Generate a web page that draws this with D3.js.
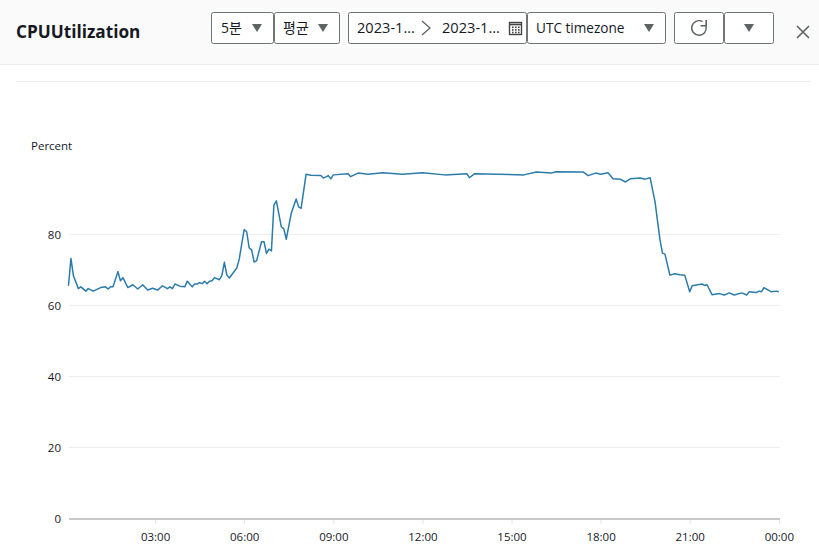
<!DOCTYPE html>
<html>
<head>
<meta charset="utf-8">
<script src="https://cdn.jsdelivr.net/npm/d3@7"></script>
<style>
html, body { margin: 0; padding: 0; background: #fff; }
svg { display: block; }
text { font-family: "Open Sans", "Noto Sans CJK KR", sans-serif; fill: #16191f; }
</style>
</head>
<body>
<div id="chart"></div>
<script>
// minutes since 00:00
const minutes = [5,10,15,25,30,40,45,55,70,80,85,90,95,105,110,115,125,135,145,155,165,175,185,195,205,210,215,220,230,240,245,255,260,265,270,275,280,285,290,295,300,310,315,320,325,330,345,350,355,360,365,370,375,380,385,395,400,405,410,415,420,425,435,440,445,455,465,470,475,485,495,515,520,530,535,540,570,575,590,610,640,680,720,765,810,815,825,925,950,980,990,1045,1055,1070,1080,1095,1105,1120,1130,1140,1160,1170,1180,1190,1200,1205,1210,1220,1230,1240,1250,1260,1265,1285,1290,1295,1305,1320,1330,1340,1350,1365,1375,1380,1395,1400,1405,1410,1425,1435,1440];
const cpuPercent = [65.6,73.3,68.4,64.8,65.3,64.1,64.8,64.1,65.1,65.3,64.7,65.3,65.3,69.6,67.0,67.9,65.1,65.9,64.7,65.9,64.4,64.9,64.4,65.6,64.8,65.3,64.8,66.1,65.5,65.3,66.9,65.3,66.1,66.1,66.5,66.2,66.9,66.2,66.9,67.0,67.9,67.3,68.6,72.2,68.6,67.8,70.6,73.1,77.4,81.4,80.8,76.3,75.7,72.3,72.6,78.0,78.0,74.7,75.9,75.4,88.3,89.5,82.2,81.6,78.7,86.0,90.0,87.8,87.4,97.0,96.7,96.6,95.9,96.6,95.7,96.8,97.1,96.3,97.3,97.0,97.4,97.0,97.4,96.8,97.1,96.0,97.1,96.8,97.6,97.3,97.7,97.6,96.6,97.3,97.0,97.4,95.7,95.6,94.8,95.7,95.9,95.6,96.0,89.2,78.5,74.8,74.5,68.6,69.0,68.7,68.6,63.9,65.6,66.1,65.7,65.9,63.1,63.4,63.0,63.6,63.0,63.6,63.0,63.9,63.7,64.1,63.9,65.1,63.9,64.1,63.9];
const xTickMinutes = [180,360,540,720,900,1080,1260,1440];
const xTickLabels = ["03:00","06:00","09:00","12:00","15:00","18:00","21:00","00:00"];
const yTicks = [0,20,40,60,80];

const title = "CPUUtilization";
const yLabel = "Percent";
const periodLabel = "5분";
const statLabel = "평균";
const dateLabel = "2023-1…";
const zoneLabel = "UTC timezone";

const svgWidth = 819;
const svgHeight = 550;
const margin = { top: 164, right: 39, bottom: 31, left: 66 };

const svg = d3.select("#chart")
    .append("svg")
    .attr("width", svgWidth)
    .attr("height", svgHeight);

// header strip
svg.append("rect").attr("width", svgWidth).attr("height", 64).attr("fill", "#fafafa");
svg.append("line").attr("x1", 0).attr("x2", svgWidth).attr("y1", 64.5).attr("y2", 64.5).attr("stroke", "#eaeded");
svg.append("line").attr("x1", 16).attr("x2", 811).attr("y1", 81.5).attr("y2", 81.5).attr("stroke", "#eaeded");

svg.append("text")
    .attr("x", 16).attr("y", 38)
    .style("font-size", "17.2px").style("font-weight", 700)
    .text(title);

function box(x, w) {
    svg.append("rect")
        .attr("x", x + 0.5).attr("y", 12.5)
        .attr("width", w - 1).attr("height", 31).attr("rx", 2)
        .attr("fill", "#fff").attr("stroke", "#6f7474");
}
function arrow(cx) {
    svg.append("path")
        .attr("d", `M${cx - 5},24 L${cx + 5},24 L${cx},32 Z`)
        .attr("fill", "#5f6363");
}
function label(x, s, size = 14) {
    svg.append("text").attr("x", x).attr("y", 33).style("font-size", size + "px").text(s);
}

box(211, 63); label(221, periodLabel); arrow(257);
box(274, 66); label(283, statLabel); arrow(323);
box(348, 179); label(357, dateLabel, 14.6); label(442, dateLabel, 14.6);
box(527, 139); label(536, zoneLabel, 13.6); arrow(649);
box(674, 50); box(724, 50); arrow(749);

// date range chevron
svg.append("path").attr("d", "M422,21 L430,28 L422,35").attr("fill", "none").attr("stroke", "#5f6363").attr("stroke-width", 1.3);

// calendar icon
svg.append("rect").attr("x", 509.5).attr("y", 22.5).attr("width", 12).attr("height", 12).attr("fill", "none").attr("stroke", "#444").attr("stroke-width", 1.4);
svg.append("line").attr("x1", 509).attr("x2", 522).attr("y1", 24.5).attr("y2", 24.5).attr("stroke", "#444").attr("stroke-width", 1.6);
d3.range(3).forEach(i => d3.range(3).forEach(j => {
    svg.append("rect").attr("x", 512 + i * 3).attr("y", 26.5 + j * 2.6).attr("width", 1.6).attr("height", 1.6).attr("fill", "#444");
}));

// refresh icon
const refreshArc = d3.arc().innerRadius(6.6).outerRadius(8).startAngle(1.3).endAngle(Math.PI * 2 + 0.5);
svg.append("path").attr("transform", "translate(699,28)").attr("d", refreshArc).attr("fill", "#5f6363");
svg.append("path").attr("d", "M706.2,20 L706.2,25.8 L700.5,25.8").attr("fill", "none").attr("stroke", "#5f6363").attr("stroke-width", 1.6);

// close icon
svg.append("path").attr("d", "M797,26 L809,38 M809,26 L797,38").attr("stroke", "#5f6363").attr("stroke-width", 1.6);

// chart
const x = d3.scaleLinear()
    .domain([0, 1440])
    .range([margin.left, svgWidth - margin.right - 1.2]);

const y = d3.scaleLinear()
    .domain([0, 100])
    .range([svgHeight - margin.bottom, margin.top - 0.5]);

const gridRight = 780;
const gridLeft = 69;

const yAxis = svg.append("g")
    .attr("transform", `translate(${gridLeft},0)`)
    .call(d3.axisLeft(y).tickValues(yTicks).tickSize(0).tickPadding(8));
yAxis.select(".domain").remove();
yAxis.selectAll("text").style("font-size", "11.5px");

svg.selectAll(".grid")
    .data(yTicks.filter(d => d > 0))
    .enter()
    .append("line")
    .attr("class", "grid")
    .attr("x1", gridLeft).attr("x2", gridRight)
    .attr("y1", d => Math.floor(y(d)) + 0.5).attr("y2", d => Math.floor(y(d)) + 0.5)
    .attr("stroke", "#eeeeee");

const xAxis = svg.append("g")
    .attr("transform", `translate(0,${y(0)})`)
    .call(d3.axisBottom(x).tickValues(xTickMinutes).tickFormat((d, i) => xTickLabels[i]).tickSize(5).tickPadding(9));
xAxis.select(".domain").remove();
xAxis.selectAll("line").attr("stroke", "#e4e4e4");
xAxis.selectAll("text").style("font-size", "11.5px");

svg.append("line")
    .attr("x1", gridLeft).attr("x2", gridRight)
    .attr("y1", y(0)).attr("y2", y(0))
    .attr("stroke", "#c9c9c9").attr("stroke-width", 2);

svg.append("text")
    .attr("x", 31).attr("y", 150)
    .style("font-size", "11.5px")
    .text(yLabel);

const line = d3.line()
    .x((d, i) => x(minutes[i]))
    .y(d => y(d));

svg.append("path")
    .datum(cpuPercent)
    .attr("fill", "none")
    .attr("stroke", "#2b7bab")
    .attr("stroke-width", 1.5)
    .attr("stroke-linejoin", "round")
    .attr("d", line);
</script>
</body>
</html>
